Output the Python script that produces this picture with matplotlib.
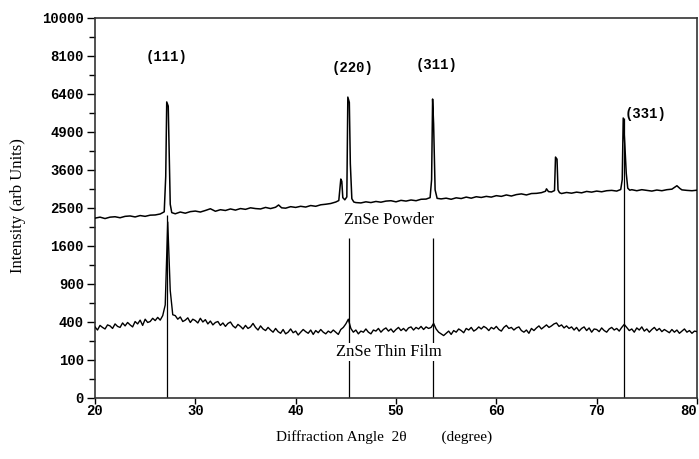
import matplotlib
matplotlib.use("Agg")
import matplotlib.pyplot as plt
import numpy as np

# ZnSe powder pattern (2theta in degree, intensity in arb units)
powder_2theta = [
    20.0, 20.5, 21.0, 21.5, 22.0, 22.5, 23.0, 23.5, 24.0, 24.5, 25.0, 25.5, 26.0, 26.5,
    26.9, 27.05, 27.15, 27.3, 27.4, 27.5, 27.65,
    28.0, 28.5, 29.0, 29.5, 30.0, 30.5, 31.0, 31.5, 32.0, 32.5, 33.0, 33.5, 34.0, 34.5,
    35.0, 35.5, 36.0, 36.5, 37.0, 37.5, 38.0, 38.3, 38.6, 39.0, 39.5, 40.0, 40.5, 41.0,
    41.5, 42.0, 42.5, 43.0, 43.5, 44.0,
    44.3, 44.5, 44.6, 44.7, 44.9, 45.1, 45.2, 45.35, 45.45, 45.6, 45.8,
    46.0, 46.5, 47.0, 47.5, 48.0, 48.5, 49.0, 49.5, 50.0, 50.5, 51.0, 51.5, 52.0, 52.5, 53.0,
    53.4, 53.55, 53.65, 53.75, 53.9, 54.1,
    54.5, 55.0, 55.5, 56.0, 56.5, 57.0, 57.5, 58.0, 58.5, 59.0, 59.5, 60.0, 60.5, 61.0,
    61.5, 62.0, 62.5, 63.0, 63.5, 64.0, 64.5,
    64.9, 65.0, 65.2, 65.5, 65.8, 65.9, 66.05, 66.15, 66.3,
    66.5, 67.0, 67.5, 68.0, 68.5, 69.0, 69.5, 70.0, 70.5, 71.0, 71.5, 72.0,
    72.4, 72.55, 72.65, 72.8, 72.95, 73.1, 73.3,
    73.5, 74.0, 74.5, 75.0, 75.5, 76.0, 76.5, 77.0, 77.5, 78.0, 78.3, 78.5, 79.0, 79.5, 80.0,
]
powder_counts = [
    2240, 2265, 2230, 2265, 2275, 2250, 2285, 2295, 2270, 2305, 2285, 2315, 2320, 2345,
    2400, 3400, 6070, 5900, 4050, 2600, 2380,
    2350, 2395, 2365, 2405, 2420, 2395, 2435, 2480, 2415, 2455, 2435, 2475, 2445, 2485,
    2465, 2505, 2485, 2475, 2515, 2485, 2520, 2580, 2505, 2495, 2535, 2515, 2545, 2525,
    2565, 2545, 2585, 2600, 2620, 2660,
    2700, 3320, 3250, 2780, 2720, 2800, 6270, 6050, 3800, 2750, 2660,
    2645, 2635, 2665, 2645, 2675, 2655, 2685, 2695, 2665, 2705, 2685, 2715, 2695, 2735, 2740,
    2780, 3300, 6190, 5200, 3000, 2760,
    2745, 2765, 2735, 2775, 2755, 2795, 2765, 2805, 2785, 2815, 2795, 2835, 2815, 2855,
    2825, 2865, 2885, 2855, 2895, 2900, 2920,
    2960, 3030, 2950, 2940, 2980, 4020, 3950, 3000, 2920,
    2895, 2925, 2905, 2935, 2915, 2955, 2935, 2965, 2945, 2975, 2985, 2965,
    3010, 3300, 5430, 4500, 3500, 3050, 2990,
    3005, 2975, 3005, 2985, 2965, 2995, 2975, 3005, 3020, 3120, 3040, 3000, 2985, 2975, 2990,
]

# ZnSe thin film pattern, sampled every 0.25 degree from 20 to 80
film_2theta = np.arange(20.0, 80.01, 0.25)
film_counts = [
    350, 320, 365, 345,  330, 370, 360, 335,  380, 355, 345, 390,  360, 395, 370, 350,
    405, 380, 420, 365,  430, 395, 405, 440,  415, 450, 420, 470,  600, 2145, 800, 480,
    470, 430, 455, 405,  420, 445, 395, 430,  415, 390, 440, 400,  425, 380, 410, 370,
    395, 405, 365, 390,  355, 385, 400, 360,  340, 375, 355, 330,  365, 335, 350, 385,
    345, 320, 360, 330,  315, 345, 320, 300,  335, 305, 290, 325,  285, 300, 330, 295,
    310, 275, 300, 325,  305, 290, 320, 280,  315, 295, 325, 300,  285, 310, 295, 320,
    300, 280, 325, 345,  380, 430, 335, 300,  320, 285, 310, 300,  330, 300, 285, 320,
    310, 335, 300, 325,  340, 310, 330, 300,  325, 345, 315, 335,  310, 340, 350, 320,
    345, 330, 355, 325,  350, 335, 345, 385,  330, 300, 285, 270,  290, 310, 280, 315,
    300, 330, 315, 295,  335, 320, 345, 310,  325, 350, 330, 355,  340, 315, 345, 330,
    355, 325, 310, 345,  365, 335, 345, 320,  340, 350, 315, 300,  320, 290, 335, 315,
    340, 360, 330, 350,  370, 345, 360, 380,  390, 355, 370, 340,  360, 335, 350, 320,
    345, 310, 335, 350,  315, 340, 300, 330,  325, 305, 340, 315,  300, 330, 345, 320,
    335, 310, 345, 375,  345, 315, 330, 300,  340, 320, 350, 310,  330, 300, 325, 345,
    315, 335, 305, 325,  310, 295, 325, 300,  320, 290, 310, 330,  300, 315, 290, 310,
    305,
]

# reflections marked with vertical lines
peak_pos = [27.2, 45.3, 53.7, 72.75]
peak_line_top = [2330, 1770, 1770, 5430]
peak_names = ["(111)", "(220)", "(311)", "(331)"]
name_x = [27.16, 45.67, 54.03, 74.83]
name_y = [8050, 7540, 7680, 5585]

y_ticks = [0, 100, 400, 900, 1600, 2500, 3600, 4900, 6400, 8100, 10000]
x_ticks = [20, 30, 40, 50, 60, 70, 80]

mono = {"family": "Liberation Mono", "weight": "bold", "size": 10}
serif = "Liberation Serif"

fig = plt.figure(figsize=(6.99, 4.59), dpi=100)
ax = fig.add_axes([0.1359, 0.1329, 0.8612, 0.8279])

ax.set_yscale("function", functions=(np.sqrt, np.square))
ax.set_xlim(20, 80)
ax.set_ylim(0, 10000)

ax.plot(powder_2theta, powder_counts, color="black", lw=1.1, zorder=3)
ax.plot(film_2theta, film_counts, color="black", lw=1.0, zorder=3)
ax.vlines(peak_pos, 0, peak_line_top, color="black", lw=0.9, zorder=2)

for name, px, py in zip(peak_names, name_x, name_y):
    ax.text(px, py, name, ha="center", va="center", fontdict=mono)

ax.text(49.35, 2194, "ZnSe Powder", ha="center", va="center",
        family=serif, size=12, zorder=4)
ax.text(49.25, 147, "ZnSe Thin Film", ha="center", va="center",
        family=serif, size=12, zorder=4,
        bbox=dict(facecolor="white", edgecolor="none", pad=1))

ax.set_yticks(y_ticks)
ax.set_yticklabels([str(v) for v in y_ticks])
minor = [((np.sqrt(a) + np.sqrt(b)) / 2) ** 2 for a, b in zip(y_ticks[:-1], y_ticks[1:])]
ax.set_yticks(minor, minor=True)
ax.set_xticks(x_ticks)
ax.set_xticklabels([str(v) for v in x_ticks])

for lab in ax.get_xticklabels() + ax.get_yticklabels():
    lab.set_fontfamily("Liberation Mono")
    lab.set_fontweight("bold")
    lab.set_fontsize(10)
# last x label sits at the right edge of the figure, keep it inside
ax.get_xticklabels()[-1].set_horizontalalignment("right")

ax.tick_params(axis="y", which="major", length=6, width=1, pad=2, direction="out")
ax.tick_params(axis="y", which="minor", length=4, width=1, direction="out")
ax.tick_params(axis="x", which="major", length=4, width=1, pad=0.5, direction="out")
ax.tick_params(axis="x", which="minor", bottom=False)

for sp in ax.spines.values():
    sp.set_linewidth(1.2)
    sp.set_color("#333333")

fig.text(384 / 699, 1 - 437 / 459, "Diffraction Angle  2\u03b8         (degree)",
         ha="center", va="center", family=serif, size=11)
fig.text(18 / 699, 1 - 206 / 459, "Intensity (arb Units)", rotation=90,
         ha="center", va="center", family=serif, size=12)

fig.savefig("out.png", dpi=100)
